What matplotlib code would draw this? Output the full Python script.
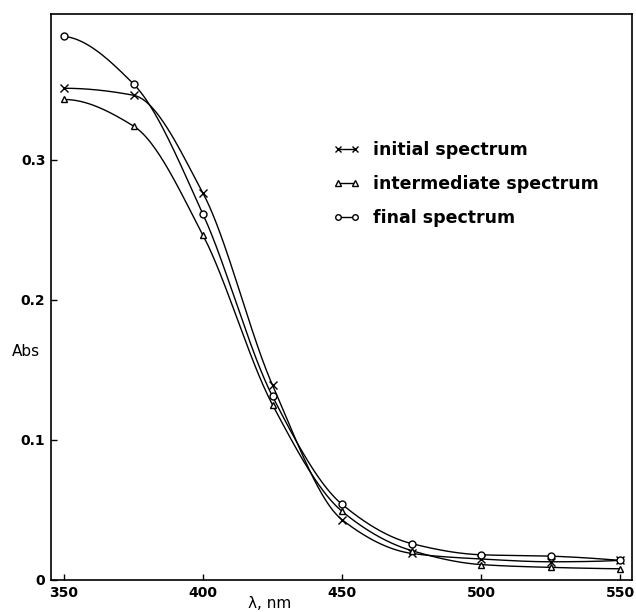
import numpy as np
import matplotlib.pyplot as plt
from matplotlib.lines import Line2D

# wavelengths (nm) and absorbances
wavelength = [350, 375, 400, 425, 450, 475, 500, 525, 550]
initial = [0.351, 0.346, 0.276, 0.139, 0.043, 0.019, 0.015, 0.013, 0.014]
intermediate = [0.343, 0.324, 0.246, 0.125, 0.049, 0.021, 0.011, 0.009, 0.008]
final = [0.388, 0.354, 0.261, 0.131, 0.054, 0.026, 0.018, 0.017, 0.014]

labels = ['initial spectrum', 'intermediate spectrum', 'final spectrum']
markers = ['x', '^', 'o']
xticks = [350, 400, 450, 500, 550]
yticks = [0, 0.1, 0.2, 0.3]
yticklabels = ['0', '0.1', '0.2', '0.3']


def pchip(x, y, xs):
    # monotone cubic through the points, no overshoot (like the hand-drawn curves)
    x = np.asarray(x, float)
    y = np.asarray(y, float)
    h = np.diff(x)
    delta = np.diff(y) / h
    n = len(x)
    d = np.zeros(n)
    for k in range(1, n - 1):
        if delta[k - 1] * delta[k] > 0:
            w1 = 2 * h[k] + h[k - 1]
            w2 = h[k] + 2 * h[k - 1]
            d[k] = (w1 + w2) / (w1 / delta[k - 1] + w2 / delta[k])
    d[0] = ((2 * h[0] + h[1]) * delta[0] - h[0] * delta[1]) / (h[0] + h[1])
    if np.sign(d[0]) != np.sign(delta[0]):
        d[0] = 0
    d[-1] = ((2 * h[-1] + h[-2]) * delta[-1] - h[-1] * delta[-2]) / (h[-1] + h[-2])
    if np.sign(d[-1]) != np.sign(delta[-1]):
        d[-1] = 0
    idx = np.clip(np.searchsorted(x, xs) - 1, 0, n - 2)
    t = (xs - x[idx]) / h[idx]
    h00 = 2 * t ** 3 - 3 * t ** 2 + 1
    h10 = t ** 3 - 2 * t ** 2 + t
    h01 = -2 * t ** 3 + 3 * t ** 2
    h11 = t ** 3 - t ** 2
    return (h00 * y[idx] + h10 * h[idx] * d[idx]
            + h01 * y[idx + 1] + h11 * h[idx] * d[idx + 1])


fig = plt.figure(figsize=(6.36, 6.12), dpi=100)
ax = fig.add_axes([0.0802, 0.0523, 0.9135, 0.9248])

xs = np.linspace(wavelength[0], wavelength[-1], 400)
for vals, m in zip([initial, intermediate, final], markers):
    ax.plot(xs, pchip(wavelength, vals, xs), color='black', lw=1.0)
    ax.plot(wavelength, vals, ls='none', marker=m, ms=5 if m != 'x' else 6,
            mfc='white', mec='black', mew=1.0)

ax.set_xlim(345.3, 554.3)
ax.set_ylim(0, 0.404)
ax.set_xticks(xticks)
ax.set_yticks(yticks)
ax.set_yticklabels(yticklabels)
ax.tick_params(direction='in', length=4, width=1, labelsize=10, pad=4)
for lab in ax.get_xticklabels() + ax.get_yticklabels():
    lab.set_fontweight('bold')
for sp in ax.spines.values():
    sp.set_linewidth(1.2)

ax.set_ylabel('Abs', rotation=0, fontsize=11, ha='center', va='center')
ax.yaxis.set_label_coords(-0.043, 0.403)
ax.set_xlabel('λ, nm', fontsize=11, ha='center', va='center')
ax.xaxis.set_label_coords(0.377, -0.041)

handles = [Line2D([], [], color='black', lw=1.0, marker=m, ms=4,
                  mfc='white', mec='black') for m in markers]
leg = ax.legend(handles, labels, loc='upper left', bbox_to_anchor=(0.485, 0.775),
                frameon=False, numpoints=2, handlelength=1.6, handletextpad=0.7,
                labelspacing=0.9, borderpad=0, borderaxespad=0,
                prop={'weight': 'bold', 'size': 12.5})

fig.savefig('out.png', dpi=100)
